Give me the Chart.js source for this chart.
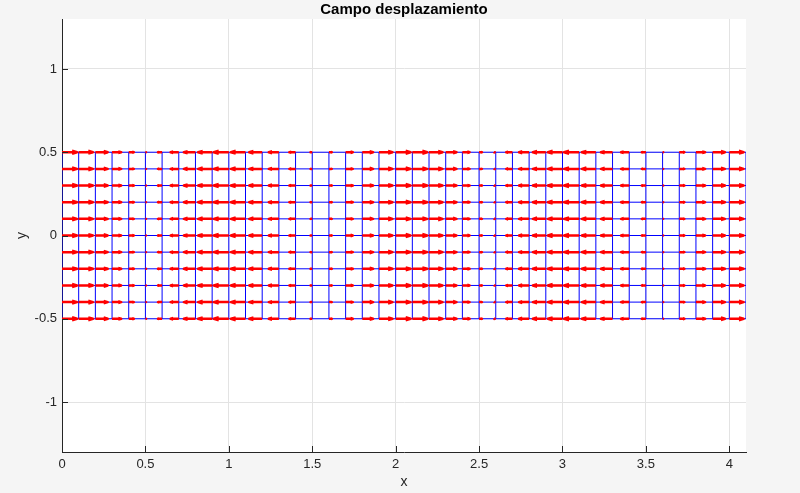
<!DOCTYPE html>
<html>
<head>
<meta charset="utf-8">
<script src="https://cdn.jsdelivr.net/npm/chart.js@4.4.1/dist/chart.umd.min.js"></script>
<style>
  html, body { margin: 0; padding: 0; background: #f5f5f5; }
  #wrap { width: 800px; height: 493px; }
</style>
</head>
<body>
<div id="wrap"><canvas id="quiverCanvas" width="800" height="493"></canvas></div>
<script>
// mesh nodes
const xNodes = [0, 0.1, 0.2, 0.3, 0.4, 0.5, 0.6, 0.7, 0.8, 0.9,
  1.0, 1.1, 1.2, 1.3, 1.4, 1.5, 1.6, 1.7, 1.8, 1.9,
  2.0, 2.1, 2.2, 2.3, 2.4, 2.5, 2.6, 2.7, 2.8, 2.9,
  3.0, 3.1, 3.2, 3.3, 3.4, 3.5, 3.6, 3.7, 3.8, 3.9,
  4.0, 4.1];
const yNodes = [-0.5, -0.4, -0.3, -0.2, -0.1, 0, 0.1, 0.2, 0.3, 0.4, 0.5];

// horizontal displacement per column (normalised, same for every row)
const uDisp = [1.00, 0.95, 0.82, 0.61, 0.34, 0.04, -0.27, -0.54, -0.77, -0.93,
  -1.00, -0.97, -0.86, -0.67, -0.41, -0.11, 0.19, 0.48, 0.72, 0.90,
  0.99, 0.99, 0.90, 0.72, 0.48, 0.19, -0.11, -0.41, -0.67, -0.86,
  -0.97, -1.00, -0.93, -0.77, -0.54, -0.27, 0.04, 0.34, 0.61, 0.82,
  0.95, 1.00];

const xTicks = [0, 0.5, 1, 1.5, 2, 2.5, 3, 3.5, 4];
const yTicks = [-1, -0.5, 0, 0.5, 1];

const titleText = "Campo desplazamiento";

const arrowScale = 0.09;   // quiver autoscale
const headLen = 0.33;
const headWidth = 0.3;

// mesh lines
const hLines = [];
yNodes.forEach(y => {
  hLines.push({ x: xNodes[0], y: y });
  hLines.push({ x: xNodes[xNodes.length - 1], y: y });
  hLines.push({ x: xNodes[0], y: null });
});
const vLines = [];
xNodes.forEach(x => {
  vLines.push({ x: x, y: yNodes[0] });
  vLines.push({ x: x, y: yNodes[yNodes.length - 1] });
  vLines.push({ x: x, y: null });
});

// arrows
const arrows = [];
yNodes.forEach(y => {
  xNodes.forEach((x, i) => {
    const u = uDisp[i] * arrowScale;
    const tip = x + u;
    arrows.push({ x: x, y: y });
    arrows.push({ x: tip, y: y });
    arrows.push({ x: tip, y: null });
    arrows.push({ x: tip - headLen * u, y: y + headLen * headWidth * u });
    arrows.push({ x: tip, y: y });
    arrows.push({ x: tip - headLen * u, y: y - headLen * headWidth * u });
    arrows.push({ x: tip, y: null });
  });
});

const font = "'Liberation Sans', Arial, Helvetica, sans-serif";

const areaBg = {
  id: "areaBg",
  beforeDraw(chart) {
    const { ctx, chartArea: a } = chart;
    ctx.save();
    ctx.fillStyle = "#ffffff";
    ctx.fillRect(a.left, a.top, a.right - a.left, a.bottom - a.top);
    ctx.restore();
  }
};

// matlab style inward ticks + title centred on the axes
const innerTicks = {
  id: "innerTicks",
  afterDraw(chart) {
    const { ctx, chartArea: a, scales } = chart;
    ctx.save();
    ctx.strokeStyle = "#262626";
    ctx.lineWidth = 1;
    ctx.beginPath();
    xTicks.forEach(v => {
      const px = Math.round(scales.x.getPixelForValue(v)) + 0.5;
      ctx.moveTo(px, a.bottom);
      ctx.lineTo(px, a.bottom - 6);
    });
    yTicks.forEach(v => {
      const py = Math.round(scales.y.getPixelForValue(v)) + 0.5;
      ctx.moveTo(a.left, py);
      ctx.lineTo(a.left + 6, py);
    });
    ctx.stroke();

    ctx.fillStyle = "#000000";
    ctx.font = "bold 15px " + font;
    ctx.textAlign = "center";
    ctx.textBaseline = "middle";
    ctx.fillText(titleText, (a.left + a.right) / 2, 10);
    ctx.restore();
  }
};

new Chart(document.getElementById("quiverCanvas"), {
  type: "scatter",
  data: {
    datasets: [
      {
        data: arrows,
        showLine: true,
        spanGaps: false,
        borderColor: "#ff0000",
        borderWidth: 2.5,
        borderJoinStyle: "round",
        pointRadius: 0
      },
      {
        data: hLines,
        showLine: true,
        spanGaps: false,
        borderColor: "#0000ff",
        borderWidth: 1,
        pointRadius: 0
      },
      {
        data: vLines,
        showLine: true,
        spanGaps: false,
        borderColor: "#0000ff",
        borderWidth: 1,
        pointRadius: 0
      }
    ]
  },
  options: {
    responsive: false,
    animation: false,
    layout: { padding: { left: 0, right: 54, top: 19, bottom: 0 } },
    plugins: {
      legend: { display: false },
      tooltip: { enabled: false },
      title: { display: false }
    },
    scales: {
      x: {
        type: "linear",
        min: 0,
        max: 4.1,
        afterBuildTicks: s => { s.ticks = xTicks.map(v => ({ value: v })); },
        afterFit: s => { s.height = 41; },
        grid: { color: "#e3e3e3", drawTicks: false },
        border: { display: true, color: "#262626" },
        ticks: {
          color: "#262626",
          padding: 5,
          maxRotation: 0,
          font: { family: font, size: 13 },
          callback: v => String(v)
        },
        title: {
          display: true,
          text: "x",
          color: "#262626",
          font: { family: font, size: 14 },
          padding: { top: 0, bottom: 2 }
        }
      },
      y: {
        type: "linear",
        min: -1.3,
        max: 1.3,
        afterBuildTicks: s => { s.ticks = yTicks.map(v => ({ value: v })); },
        afterFit: s => { s.width = 62; },
        grid: { color: "#e3e3e3", drawTicks: false },
        border: { display: true, color: "#262626" },
        ticks: {
          color: "#262626",
          padding: 5,
          font: { family: font, size: 13 },
          callback: v => String(v)
        },
        title: {
          display: true,
          text: "y",
          color: "#262626",
          font: { family: font, size: 14 },
          padding: { top: 14, bottom: 0 }
        }
      }
    }
  },
  plugins: [areaBg, innerTicks]
});
</script>
</body>
</html>
